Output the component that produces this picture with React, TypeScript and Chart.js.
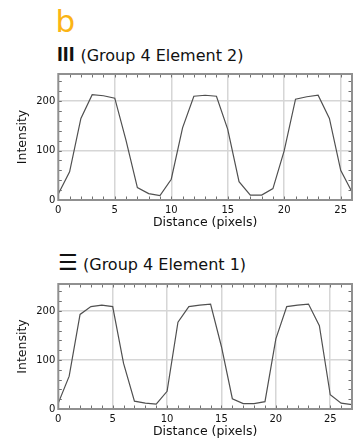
import React, { useEffect, useRef } from "react";
import { Chart, registerables } from "chart.js";

Chart.register(...registerables);

// Line profiles across the bar groups of the resolution target
const distanceElement2 = [0, 1, 2, 3, 4, 5, 6, 7, 8, 9, 10, 11, 12, 13, 14, 15, 16, 17, 18, 19, 20, 21, 22, 23, 24, 25, 26];
const intensityElement2 = [12, 57, 165, 213, 211, 206, 120, 25, 13, 9, 42, 146, 210, 212, 210, 143, 37, 10, 10, 23, 100, 204, 209, 212, 165, 60, 16];

const distanceElement1 = [0, 1, 2, 3, 4, 5, 6, 7, 8, 9, 10, 11, 12, 13, 14, 15, 16, 17, 18, 19, 20, 21, 22, 23, 24, 25, 26, 27];
const intensityElement1 = [12, 67, 193, 209, 212, 209, 93, 16, 12, 10, 36, 177, 209, 212, 214, 127, 21, 11, 11, 15, 143, 209, 212, 214, 170, 29, 12, 9];

const xTickValues = [0, 5, 10, 15, 20, 25];
const yTickValues = [0, 100, 200];
const Y_MAX = 255;
const X_MINOR_STEP = 1;
const Y_MINOR_STEP = 20;

const FONT = "'DejaVu Sans', sans-serif";
const WIDTH = 353;
const PAD_TOP = 5;
const X_AXIS_H = 34;
const Y_AXIS_W = 58.3;

// Draws the plot frame and the small inward minor ticks on all four sides
const frameAndTicks = {
  id: "frameAndTicks",
  afterDatasetsDraw(chart: any) {
    const { ctx, chartArea: a, scales } = chart;
    const xs = scales.x;
    const ys = scales.y;
    ctx.save();
    ctx.strokeStyle = "#707070";
    ctx.lineWidth = 1;
    ctx.beginPath();
    for (let v = xs.min + X_MINOR_STEP; v < xs.max; v += X_MINOR_STEP) {
      const px = Math.round(xs.getPixelForValue(v)) + 0.5;
      ctx.moveTo(px, a.top);
      ctx.lineTo(px, a.top + 3.5);
      ctx.moveTo(px, a.bottom);
      ctx.lineTo(px, a.bottom - 3.5);
    }
    for (let v = ys.min + Y_MINOR_STEP; v < ys.max; v += Y_MINOR_STEP) {
      const py = Math.round(ys.getPixelForValue(v)) + 0.5;
      ctx.moveTo(a.left, py);
      ctx.lineTo(a.left + 3.5, py);
      ctx.moveTo(a.right, py);
      ctx.lineTo(a.right - 3.5, py);
    }
    ctx.stroke();
    ctx.strokeStyle = "#909090";
    ctx.lineWidth = 2;
    ctx.strokeRect(a.left, a.top, a.right - a.left, a.bottom - a.top);
    ctx.restore();
  },
};

type ProfileProps = {
  top: number;
  plotHeight: number;
  xs: number[];
  ys: number[];
  xMax: number;
};

function ProfileChart({ top, plotHeight, xs, ys, xMax }: ProfileProps) {
  const ref = useRef<HTMLCanvasElement>(null);
  const height = PAD_TOP + plotHeight + X_AXIS_H;

  useEffect(() => {
    const gridColor = (c: any) =>
      c.tick && c.tick.value === 0 ? "rgba(0,0,0,0)" : "#d6d6d6";
    const chart = new Chart(ref.current as HTMLCanvasElement, {
      type: "line",
      data: {
        datasets: [
          {
            data: xs.map((x, i) => ({ x, y: ys[i] })),
            borderColor: "#505050",
            borderWidth: 1.2,
            pointRadius: 0,
            tension: 0,
            fill: false,
          },
        ],
      },
      options: {
        responsive: false,
        animation: false,
        layout: { padding: { top: PAD_TOP, right: 1, left: 0, bottom: 0 } },
        plugins: { legend: { display: false }, tooltip: { enabled: false } },
        scales: {
          x: {
            type: "linear",
            min: 0,
            max: xMax,
            afterBuildTicks: (s: any) => {
              s.ticks = xTickValues.map((value) => ({ value }));
            },
            afterFit: (s: any) => {
              s.height = X_AXIS_H;
            },
            grid: { color: gridColor, lineWidth: 1.5, drawTicks: false },
            border: { display: false },
            ticks: {
              color: "#111",
              padding: 4,
              maxRotation: 0,
              font: { family: FONT, size: 10 },
              callback: (v: any) => String(v),
            },
            title: {
              display: true,
              text: "Distance (pixels)",
              color: "#111",
              font: { family: FONT, size: 12.5 },
              padding: { top: 0, bottom: 4 },
            },
          },
          y: {
            type: "linear",
            min: 0,
            max: Y_MAX,
            afterBuildTicks: (s: any) => {
              s.ticks = yTickValues.map((value) => ({ value }));
            },
            afterFit: (s: any) => {
              s.width = Y_AXIS_W;
            },
            grid: { color: gridColor, lineWidth: 1.5, drawTicks: false },
            border: { display: false },
            ticks: {
              color: "#111",
              padding: 3,
              font: { family: FONT, size: 10 },
              callback: (v: any) => String(v),
            },
            title: {
              display: true,
              text: "Intensity",
              color: "#111",
              font: { family: FONT, size: 12.5 },
              padding: { top: 15.5, bottom: 0 },
            },
          },
        },
      },
      plugins: [frameAndTicks],
    });
    return () => chart.destroy();
  }, []);

  return (
    <div style={{ position: "absolute", left: 0, top, width: WIDTH, height }}>
      <canvas ref={ref} width={WIDTH} height={height} style={{ display: "block", width: WIDTH, height }} />
    </div>
  );
}

const textBase: React.CSSProperties = {
  position: "absolute",
  whiteSpace: "nowrap",
  color: "#111",
  fontFamily: FONT,
};

export default function App() {
  return (
    <div style={{ position: "absolute", left: 0, top: 0, width: WIDTH, height: 447, background: "#fff", overflow: "hidden" }}>
      <div style={{ ...textBase, left: 55.5, top: 5.8, fontSize: 31, lineHeight: "31px", color: "#fbb415" }}>b</div>

      <div style={{ ...textBase, left: 57, top: 43.2, fontSize: 21, lineHeight: "21px", fontWeight: 700, fontFamily: "'Liberation Sans', sans-serif" }}>III</div>
      <div style={{ ...textBase, left: 80.4, top: 47.5, fontSize: 16, lineHeight: "16px" }}>(Group 4 Element 2)</div>
      <ProfileChart top={65} plotHeight={130} xs={distanceElement2} ys={intensityElement2} xMax={26} />

      <div style={{ ...textBase, left: 58, top: 252, fontSize: 22, lineHeight: "22px" }}>☰</div>
      <div style={{ ...textBase, left: 83, top: 256.5, fontSize: 16, lineHeight: "16px" }}>(Group 4 Element 1)</div>
      <ProfileChart top={275} plotHeight={129} xs={distanceElement1} ys={intensityElement1} xMax={27} />
    </div>
  );
}
